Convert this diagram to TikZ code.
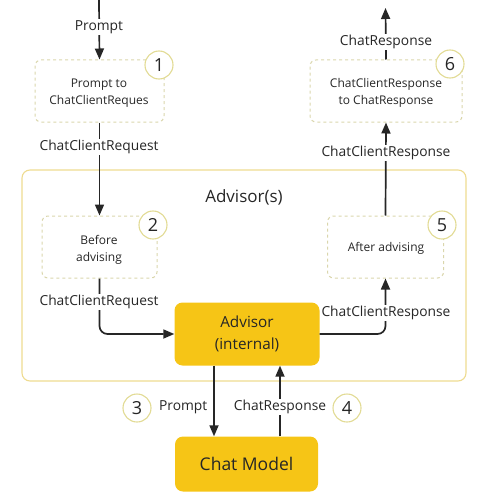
\documentclass[tikz,border=0pt]{standalone}
\usepackage{fontspec}
\setmainfont{Open Sans}
\usetikzlibrary{arrows.meta}
\definecolor{ayellow}{HTML}{F6C516}
\definecolor{dashc}{HTML}{DAD6AC}
\definecolor{circc}{HTML}{E2DB94}
\definecolor{contc}{HTML}{EEDB90}
\definecolor{inkc}{HTML}{262626}
\begin{document}
\begin{tikzpicture}[x=1pt,y=-1pt,
  stepbox/.style={draw=dashc,dashed,line width=1pt,rounded corners=6pt,minimum height=62pt,inner sep=0pt},
  steptext/.style={align=center,font=\fontsize{12}{16.5}\selectfont,text=inkc,inner sep=0pt},
  solidbox/.style={fill=ayellow,rounded corners=8pt,align=center,text=inkc},
  numc/.style={circle,draw=circc,fill=white,line width=1.1pt,minimum size=28pt,inner sep=0pt,font=\fontsize{18}{18}\selectfont,text=inkc},
  lbl/.style={fill=white,inner sep=1.5pt,font=\fontsize{13.8}{15}\selectfont,text=inkc},
  flow/.style={draw=inkc,line width=1.7pt,-{Triangle[length=11pt,width=9pt]}}]
\useasboundingbox (0,0) rectangle (484,503);
% container
\node[draw=contc,line width=1.1pt,rounded corners=8pt,minimum width=444pt,minimum height=211pt,inner sep=0pt] (cont) at (244,275.5) {};
\node[font=\fontsize{17}{17}\selectfont,text=inkc] (conttitle) at (244,197) {Advisor(s)};
% step boxes
\node[stepbox,minimum width=129pt] (b1) at (99.5,91) {};
\node[stepbox,minimum width=115pt] (b2) at (99.5,247) {};
\node[stepbox,minimum width=116pt] (b5) at (385.5,247) {};
\node[stepbox,minimum width=152pt] (b6) at (386,91) {};
% number circles
\node[numc] (n1) at (159,65) {1};
\node[numc] (n2) at (153,225) {2};
\node[numc] (n5) at (442,225) {5};
\node[numc] (n6) at (450,64) {6};
\node[numc] (n3) at (137,408) {3};
\node[numc] (n4) at (347,408) {4};
% step texts
\node[steptext] (t1) at (99,93) {Prompt to\\ChatClientReques};
\node[steptext] (t2) at (99,250) {Before\\advising};
\node[steptext] (t5) at (386,248.5) {After advising};
\node[steptext] (t6) at (386,93) {ChatClientResponse\\to ChatResponse};
% solid boxes
\node[solidbox,minimum width=145pt,minimum height=63pt,font=\fontsize{15.3}{22}\selectfont] (adv) at (247,334) {Advisor\\(internal)};
\node[solidbox,minimum width=143pt,minimum height=55pt,font=\fontsize{17.5}{18}\selectfont] (cm) at (246.5,464) {Chat Model};
% coordinates
\coordinate (top1) at (99,0);
\coordinate (top6) at (385.5,8);
\coordinate (c2) at (99.5,334);
\coordinate (c5) at (385.5,334);
% flows
\draw[flow] (top1) -- (b1.north);
\node[lbl] (lp) at (99,27) {Prompt};
\draw[flow] (b1.south) -- (b2.north);
\node[lbl] (lccr1) at (99,147) {ChatClientRequest};
\draw[flow,rounded corners=8pt] (b2.south) -- (c2) -- (adv.west);
\node[lbl] (lccr2) at (99,302) {ChatClientRequest};
\draw[flow,rounded corners=8pt] (adv.east) -- (c5) -- (b5.south);
\node[lbl] (lccs1) at (386,313) {ChatClientResponse};
\draw[flow] (b5.north) -- (b6.south);
\node[lbl] (lccs2) at (386,153) {ChatClientResponse};
\draw[flow] (b6.north) -- (top6);
\node[lbl] (lcr) at (386,42) {ChatResponse};
\draw[flow] (adv.south -| 214,0) -- (cm.north -| 214,0);
\draw[flow] (cm.north -| 280,0) -- (adv.south -| 280,0);
\node[lbl,anchor=east] (lp2) at (209,407) {Prompt};
\node[lbl] (lcr2) at (280,407) {ChatResponse};
\end{tikzpicture}
\end{document}
